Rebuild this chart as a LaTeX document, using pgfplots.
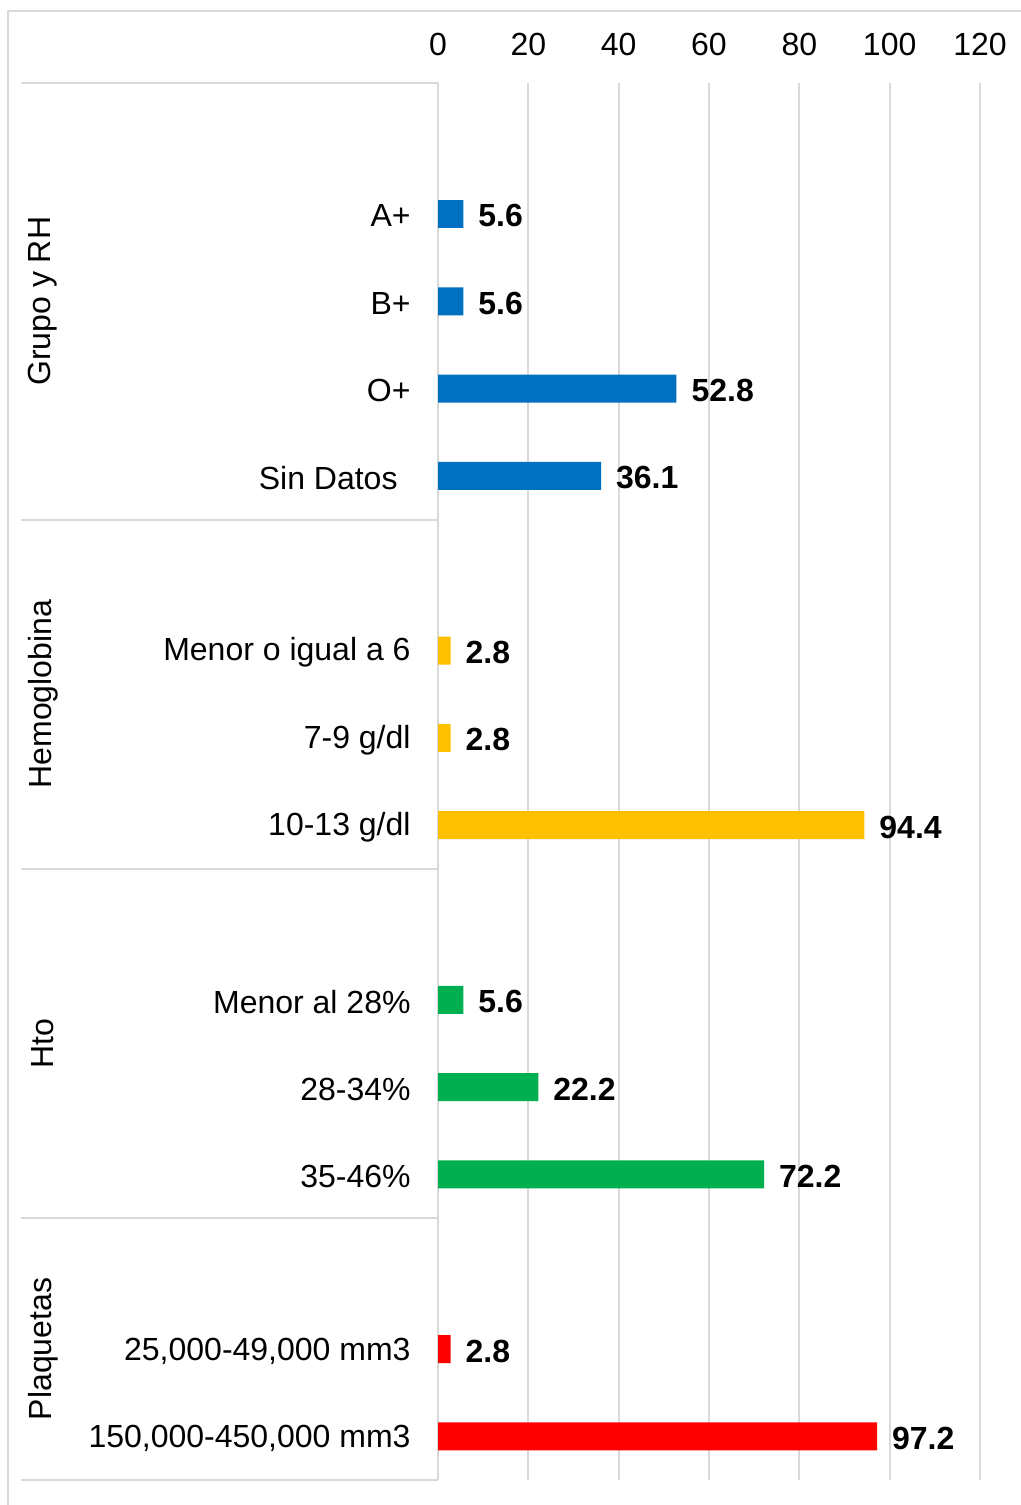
\documentclass[border=0pt]{standalone}
\usepackage{fontspec}
\setmainfont{Liberation Sans}
\usepackage{pgfplots}
\pgfplotsset{compat=1.18}
\definecolor{cblue}{HTML}{0070C0}
\definecolor{cyellow}{HTML}{FFC000}
\definecolor{cgreen}{HTML}{00B050}
\definecolor{cred}{HTML}{FF0000}
\definecolor{gridgray}{HTML}{D9D9D9}
\begin{document}
\begin{tikzpicture}[font=\fontsize{16bp}{19bp}\selectfont]
\begin{axis}[
  at={(219bp,12.5bp)}, anchor=south west,
  scale only axis, width=271bp, height=698.5bp,
  xmin=0, xmax=120, ymin=-0.5, ymax=15.5, y dir=reverse,
  xtick={0,20,...,120}, xticklabel pos=top,
  xmajorgrids, grid style={gridgray, line width=1bp},
  major tick length=0pt,
  axis line style={draw=none},
  ytick={1,2,3,4,6,7,8,10,11,12,14,15},
  yticklabels={A+,B+,O+,Sin Datos\hspace*{6.5bp},Menor o igual a 6,7-9 g/dl,10-13 g/dl,Menor al 28\%,28-34\%,35-46\%,{25,000-49,000 mm3},{150,000-450,000 mm3}},
  yticklabel style={xshift=-10.2bp, yshift=-1bp},
  xticklabel style={yshift=10bp},
  /pgf/number format/assume math mode=true,
  xbar, bar width=0.32,
  nodes near coords={\pgfmathprintnumber[fixed,fixed zerofill,precision=1,assume math mode=true]{\pgfplotspointmeta}},
  nodes near coords style={font=\fontsize{16bp}{19bp}\selectfont\bfseries, anchor=west, xshift=4bp, yshift=-1bp},
  clip=false,
]
\addplot[fill=cblue, draw=none, bar shift=0pt] coordinates {(5.6,1) (5.6,2) (52.8,3) (36.1,4)};
\addplot[fill=cyellow, draw=none, bar shift=0pt] coordinates {(2.8,6) (2.8,7) (94.4,8)};
\addplot[fill=cgreen, draw=none, bar shift=0pt] coordinates {(5.6,10) (22.2,11) (72.2,12)};
\addplot[fill=cred, draw=none, bar shift=0pt] coordinates {(2.8,14) (97.2,15)};
\coordinate (sA) at (axis cs:0,-0.5);
\coordinate (sB) at (axis cs:0,4.5);
\coordinate (sC) at (axis cs:0,8.5);
\coordinate (sD) at (axis cs:0,12.5);
\coordinate (sE) at (axis cs:0,15.5);
\coordinate (gA) at (axis cs:0,2);
\coordinate (gB) at (axis cs:0,6.5);
\coordinate (gC) at (axis cs:0,10.5);
\coordinate (gD) at (axis cs:0,14);
\end{axis}
\foreach \s in {sA,sB,sC,sD,sE}{
  \draw[gridgray, line width=1bp] (\s) -- ++(-208.5bp,0);
}
\path (gA) ++(-197.5bp,0) node[rotate=90] {Grupo y RH};
\path (gB) ++(-197.5bp,0) node[rotate=90] {Hemoglobina};
\path (gC) ++(-197.5bp,0) node[rotate=90] {Hto};
\path (gD) ++(-197.5bp,0) node[rotate=90] {Plaquetas};
\draw[gridgray, line width=1bp] (4bp,-5bp) -- (4bp,747bp) -- (515bp,747bp);
\pgfresetboundingbox
\path (0,0) rectangle (510.5bp,752.5bp);
\end{tikzpicture}
\end{document}
